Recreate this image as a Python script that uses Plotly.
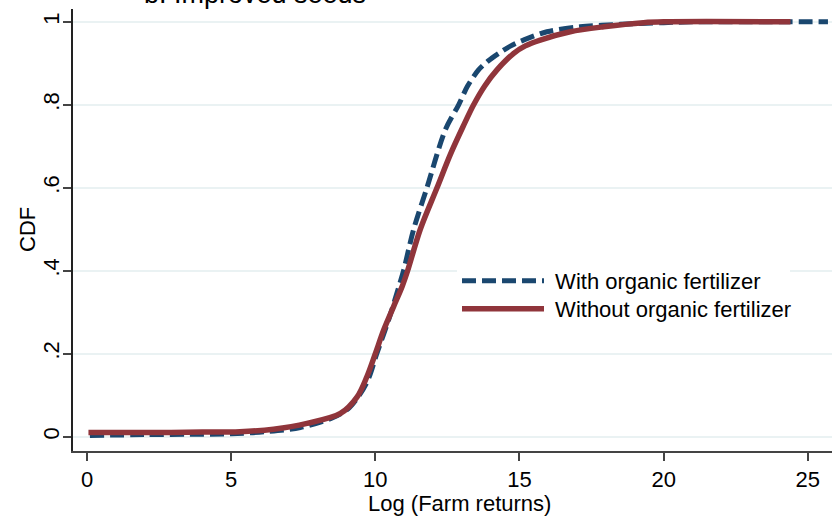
import plotly.graph_objects as go

with_x = [0.1, 2.0, 4.0, 5.0, 6.2, 7.4, 8.5, 9.1, 9.7, 10.05, 10.5, 10.81, 10.98,
          11.33, 11.79, 12.43, 12.89, 13.2, 13.58, 13.9, 14.28, 14.7, 15.14, 15.95,
          17.1, 18.5, 20.0, 21.0, 25.7]
with_y = [0.003, 0.005, 0.006, 0.007, 0.012, 0.022, 0.045, 0.07, 0.13, 0.20, 0.29,
          0.36, 0.40, 0.50, 0.60, 0.74, 0.80, 0.845, 0.884, 0.905, 0.924, 0.942,
          0.956, 0.976, 0.988, 0.994, 0.998, 1.0, 1.0]

without_x = [0.05, 2.0, 4.0, 5.3, 6.47, 7.63, 8.79, 9.37, 9.71, 10.0, 10.29, 10.63,
             10.93, 11.12, 11.56, 12.14, 12.6, 13.04, 13.41, 13.8, 14.22, 14.8, 15.2,
             15.72, 16.76, 17.92, 19.3, 20.0, 24.4]
without_y = [0.010, 0.010, 0.011, 0.012, 0.018, 0.032, 0.056, 0.096, 0.145, 0.20,
             0.257, 0.313, 0.362, 0.40, 0.50, 0.60, 0.68, 0.747, 0.80, 0.846, 0.884,
             0.924, 0.942, 0.956, 0.976, 0.988, 0.998, 1.0, 1.0]

series_names = ["With organic fertilizer", "Without organic fertilizer"]
x_ticks = [0, 5, 10, 15, 20, 25]
y_ticks = [0, 0.2, 0.4, 0.6, 0.8, 1]
y_tick_text = ["0", ".2", ".4", ".6", ".8", "1"]

BLUE = "#1a476f"
RED = "#90353b"
FONT = "Liberation Sans, Arial, sans-serif"
FS = 22
NB = "\u00a0"

fig = go.Figure()
fig.add_trace(go.Scatter(x=with_x, y=with_y, mode="lines",
                         name=NB + series_names[0] + NB * 4, legend="legend",
                         line=dict(color=BLUE, width=5, dash="14px,6px",
                                   shape="spline", smoothing=0.9)))
fig.add_trace(go.Scatter(x=without_x, y=without_y, mode="lines",
                         name=NB + series_names[1], legend="legend2",
                         line=dict(color=RED, width=5.5, shape="spline", smoothing=0.9)))

L, R, T, B = 73, 0, 9, 70
W, H = 832, 521
pw = W - L - R
ph = H - T - B

def px_x(p):
    return (p - L) / pw

def px_y(p):
    return (H - B - p) / ph

legend_common = dict(xanchor="left", yanchor="middle", borderwidth=0,
                     itemwidth=82, font=dict(family=FONT, size=FS, color="black"))

fig.update_layout(
    width=W, height=H,
    margin=dict(l=L, r=R, t=T, b=B, pad=0),
    paper_bgcolor="white", plot_bgcolor="white",
    font=dict(family=FONT, size=FS, color="black"),
    showlegend=True,
    legend=dict(x=px_x(457), y=px_y(281), bgcolor="white", **legend_common),
    legend2=dict(x=px_x(457), y=px_y(309), bgcolor="rgba(0,0,0,0)", **legend_common),
    xaxis=dict(range=[-0.486, 25.84], tickvals=x_ticks, showgrid=False, zeroline=False,
               showline=True, linecolor="#444", linewidth=1.5,
               ticks="outside", ticklen=8, tickwidth=1.5, tickcolor="#444",
               tickfont=dict(family=FONT, size=FS, color="black")),
    yaxis=dict(range=[-0.0345, 1.0309], tickvals=y_ticks, ticktext=y_tick_text,
               tickangle=-90, showgrid=True, gridcolor="#eaf2f3", gridwidth=1.5,
               zeroline=False, showline=True, linecolor="#222", linewidth=1.5,
               ticks="outside", ticklen=8, tickwidth=1.5, tickcolor="#444",
               ticklabelstandoff=-5,
               tickfont=dict(family=FONT, size=FS, color="black")),
    annotations=[
        dict(text="b. Improved seeds", xref="paper", yref="paper", x=px_x(255), y=px_y(11),
             xanchor="center", yanchor="bottom", showarrow=False,
             font=dict(family=FONT, size=27, color="black")),
        dict(text="Log (Farm returns)", xref="paper", yref="paper", x=px_x(459.5), y=px_y(503),
             xanchor="center", yanchor="middle", showarrow=False,
             font=dict(family=FONT, size=FS, color="black")),
        dict(text="CDF", xref="paper", yref="paper", x=px_x(27), y=px_y(230),
             xanchor="center", yanchor="middle", showarrow=False, textangle=-90,
             font=dict(family=FONT, size=FS, color="black")),
    ],
)

fig.write_html("out.html")
